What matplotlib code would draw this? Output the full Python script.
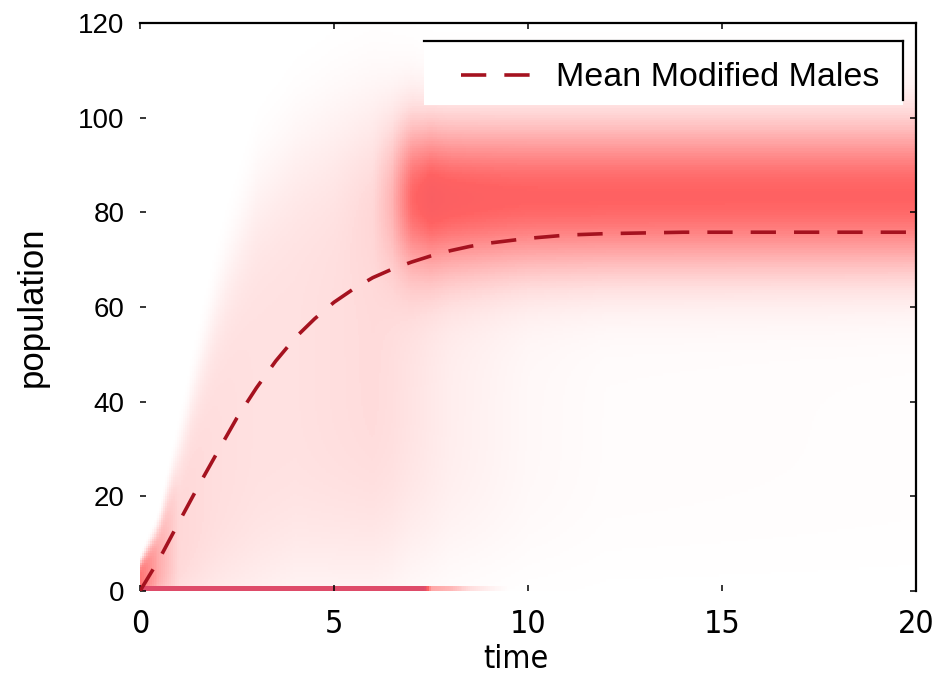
import numpy as np
import matplotlib
matplotlib.use("Agg")
import matplotlib.pyplot as plt
from matplotlib.colors import LinearSegmentedColormap
from matplotlib.patches import Rectangle
from matplotlib.lines import Line2D
from matplotlib import font_manager

# pick a regular-weight condensed face if one is installed
xfont = ["Liberation Sans"]
for f in font_manager.fontManager.ttflist:
    if (("Condensed" in f.name or "Narrow" in f.name or f.stretch in ("condensed", "semi-condensed"))
            and f.weight in (400, "normal", "regular", "book") and f.style == "normal"):
        xfont = [f.name, "Liberation Sans"]
        xstretch = f.stretch
        break
else:
    xstretch = "normal"

# ---- data ----
t_mean = [0, 0.5, 1, 1.5, 2, 2.5, 3, 3.5, 4, 4.5, 5, 5.5, 6, 6.5, 7, 7.5, 8, 8.5,
          9, 10, 11, 12, 14, 16, 18, 20]
mean_males = [0, 6.8, 14.5, 22.1, 29.4, 36.6, 42.9, 48.6, 53.5, 57.5, 61.0, 63.8,
              66.2, 68.0, 69.5, 70.8, 71.9, 72.8, 73.5, 74.5, 75.2, 75.5, 75.8,
              75.8, 75.8, 75.8]

# density description per time knot
t_knots      = [0,    0.5,  1,    2,    3,    4,    5,    6,    6.5,  7,    7.5,  8,    10,   12,    20]
broad_center = [2,    6,    12,   28,   40,   47,   50,   52,   52,   52,   48,   45,   40,   40,    40]
broad_width  = [4,    8,    18,   34,   45,   48,   50,   51,   50,   48,   44,   40,   35,   35,    35]
broad_amp    = [0.5,  0.3,  0.15, 0.13, 0.12, 0.12, 0.13, 0.14, 0.13, 0.11, 0.09, 0.07, 0.03, 0.015, 0.01]
band_amp     = [0,    0,    0,    0,    0,    0,    0,    0.05, 0.3,  0.8,  1.0,  1.0,  1.0,  1.0,   1.0]
broad_shape = 4
band_center = 83.5
band_sigma = 11.0
band_peak = 0.56
t_zero    = [0,   7,   7.3, 7.5,  8,    8.5,  9,    9.5, 20]
zero_mass = [1.0, 1.0, 1.0, 0.3,  0.25, 0.12, 0.05, 0.0, 0.0]

# ---- build density image ----
tt = np.arange(0, 20, 0.05) + 0.025
yy = np.arange(0, 120, 0.5) + 0.25
bc = np.interp(tt, t_knots, broad_center)
bw = np.interp(tt, t_knots, broad_width)
ba = np.interp(tt, t_knots, broad_amp)
na = np.interp(tt, t_knots, band_amp)
zm = np.interp(tt, t_zero, zero_mass)
Y = yy[:, None]
dens = ba[None, :] * np.exp(-np.abs((Y - bc[None, :]) / bw[None, :]) ** broad_shape)
dens += band_peak * na[None, :] * np.exp(-0.5 * ((Y - band_center) / band_sigma) ** 2)
dens[yy < 1.0, :] += zm[None, :]
dens = np.clip(dens, 0, 1)

cmap = LinearSegmentedColormap.from_list(
    "wr", [(0.0, "#ffffff"), (0.13, "#ffdede"), (0.56, "#ff6262"), (1.0, "#de4b69")])

fig = plt.figure(figsize=(9.44, 6.94), dpi=100)
ax = fig.add_axes([140/944, 103/694, 776/944, 568/694])
ax.imshow(dens, origin="lower", extent=[0, 20, 0, 120], aspect="auto",
          cmap=cmap, vmin=0, vmax=1, interpolation="nearest", zorder=0)
ax.plot(t_mean, mean_males, color="#a5121f", lw=2.6, dashes=(7, 5),
        label="Mean Modified Males", zorder=2)

ax.set_xlim(0, 20)
ax.set_ylim(0, 120)
ax.set_xticks([0, 5, 10, 15, 20])
ax.set_yticks([0, 20, 40, 60, 80, 100, 120])
ax.spines["left"].set_visible(False)
ax.spines["bottom"].set_visible(False)
for s in ("top", "right"):
    ax.spines[s].set_linewidth(1.6)
ax.tick_params(direction="in", length=4.5, width=1.1, top=True, right=True,
               labeltop=False, labelright=False)
ax.tick_params(axis="y", pad=11)
ax.tick_params(axis="x", pad=13)

for lab in ax.get_yticklabels():
    lab.set_fontfamily("Liberation Sans")
    lab.set_fontsize(20)
for lab in ax.get_xticklabels():
    lab.set_fontfamily(xfont)
    lab.set_fontstretch(xstretch)
    lab.set_fontweight("normal")
    lab.set_fontsize(23)
ax.set_xlabel("time", fontfamily=xfont, fontstretch=xstretch, fontweight="normal",
              fontsize=23)
ax.xaxis.set_label_coords(0.485, -0.093)
ax.set_ylabel("population", fontfamily="Liberation Sans", fontsize=25)
ax.yaxis.set_label_coords(-0.118, 0.5)

# legend box (MATLAB style: only top and right edges visible)
fig.add_artist(Rectangle((424/944, 1 - 105/694), (903 - 424)/944, (105 - 41)/694,
                         transform=fig.transFigure, facecolor="white",
                         edgecolor="none", zorder=3))
fig.add_artist(Line2D([424/944, 903/944], [1 - 41/694, 1 - 41/694],
                      transform=fig.transFigure, color="black", lw=1.6, zorder=4))
fig.add_artist(Line2D([903/944, 903/944], [1 - 41/694, 1 - 100/694],
                      transform=fig.transFigure, color="black", lw=1.6, zorder=4))
h, l = ax.get_legend_handles_labels()
fig.legend(h, l, loc="center left", bbox_to_anchor=(444/944, 1 - 78/694),
           bbox_transform=fig.transFigure, frameon=False, borderpad=0,
           handlelength=2.2, handletextpad=0.6,
           prop={"family": "Liberation Sans", "size": 24.5})

fig.savefig("out.png", dpi=100)
